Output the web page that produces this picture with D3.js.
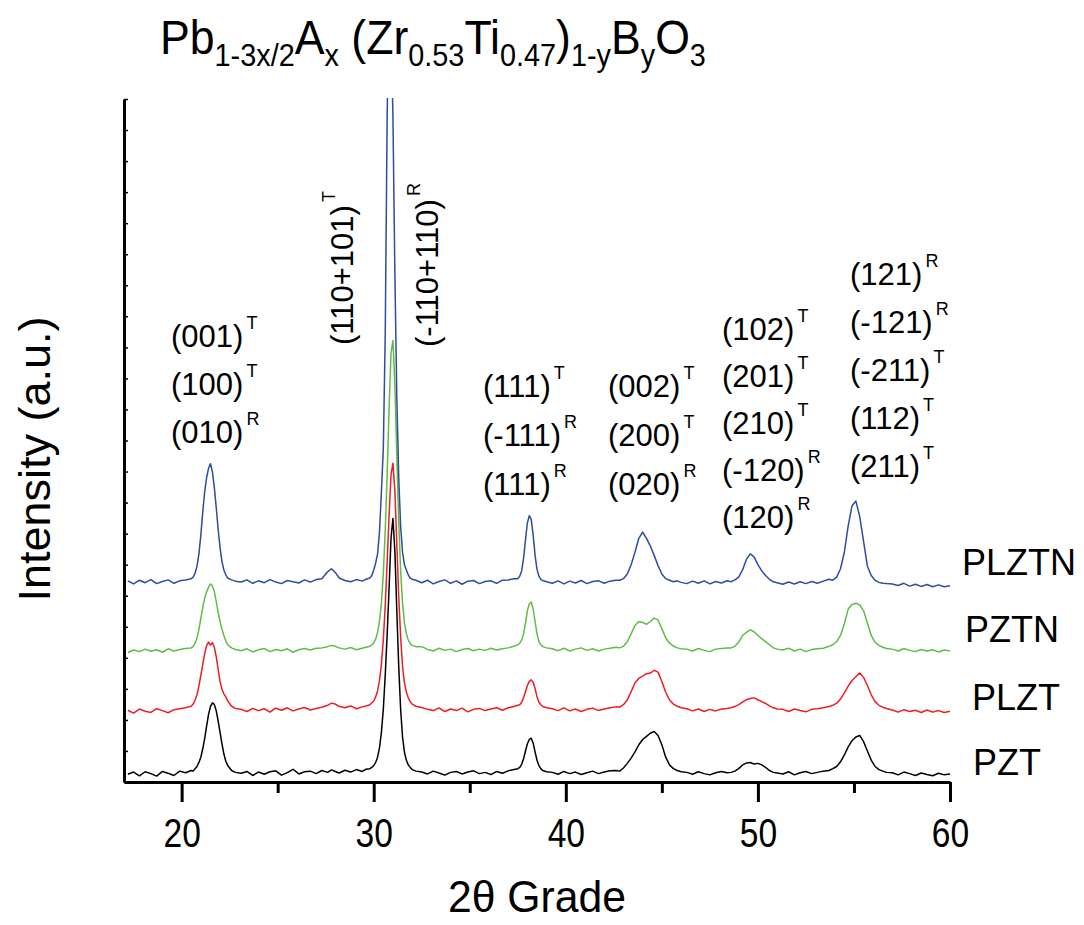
<!DOCTYPE html>
<html>
<head>
<meta charset="utf-8">
<script src="https://cdn.jsdelivr.net/npm/d3@7"></script>
<style>
  html, body { margin: 0; padding: 0; background: #ffffff; }
  svg { display: block; }
  text { font-family: Arial, "Liberation Sans", Helvetica, sans-serif; fill: #000; }
</style>
</head>
<body>
<svg id="chart" width="1084" height="925"></svg>
<script>
// ---------------- DATA ----------------
// 2-theta positions (degrees)
const theta = [
  17.2,17.5,17.8,18.1,18.4,18.7,19.0,19.3,19.6,19.9,20.2,
  20.5,20.6,20.7,20.8,20.9,21.0,21.1,21.2,21.3,21.4,21.5,21.6,21.7,21.8,21.9,22.0,22.1,22.2,22.3,22.4,22.6,22.8,
  23.1,23.4,23.7,24.0,24.3,24.6,24.9,25.2,25.5,25.8,26.1,26.4,26.7,27.0,27.3,27.6,27.8,28.0,28.2,28.5,28.8,29.1,29.4,29.6,
  29.8,29.9,30.0,30.1,30.2,30.3,30.4,30.5,30.6,30.7,30.8,30.9,31.0,31.1,31.2,31.3,31.4,31.5,31.6,31.7,31.8,31.9,32.0,32.2,
  32.5,32.8,33.1,33.4,33.7,34.0,34.3,34.6,34.9,35.2,35.5,35.8,36.1,36.4,36.7,37.0,37.3,
  37.5,37.6,37.7,37.8,37.9,38.0,38.1,38.2,38.3,38.4,38.5,38.6,38.7,38.8,39.0,
  39.3,39.6,39.9,40.2,40.5,40.8,41.1,41.4,41.7,42.0,42.3,42.6,
  42.8,43.0,43.2,43.4,43.6,43.8,44.0,44.2,44.4,44.6,44.8,45.0,45.2,45.4,45.6,45.8,46.0,
  46.3,46.6,46.9,47.2,47.5,47.8,48.1,48.4,
  48.6,48.8,49.0,49.2,49.4,49.6,49.8,50.0,50.2,50.4,50.6,50.8,51.0,
  51.3,51.6,51.9,52.2,52.5,52.8,53.1,53.4,53.7,
  53.9,54.1,54.3,54.5,54.7,54.9,55.1,55.3,55.5,55.7,55.9,56.1,56.3,56.5,56.7,
  57.0,57.3,57.6,57.9,58.2,58.5,58.8,59.1,59.4,59.7,60.0
];

// intensities (a.u.), relative to each pattern's own baseline
const pzt = [
  0.00,0.07,-0.05,0.08,0.02,-0.06,0.09,0.03,-0.04,0.10,0.05,
  0.12,0.10,0.18,0.25,0.38,0.55,0.82,1.15,1.55,1.92,2.18,2.30,2.25,2.05,1.72,1.35,0.98,0.65,0.42,0.28,0.12,0.06,
  0.03,0.09,-0.04,0.07,0.00,0.08,0.11,-0.03,0.05,0.16,0.01,0.08,0.10,0.02,0.12,0.06,0.14,0.09,0.04,0.13,0.07,0.15,0.09,0.16,
  0.18,0.22,0.28,0.38,0.55,0.85,1.35,2.1,3.2,4.5,6.0,7.6,8.24,7.2,5.3,3.5,2.1,1.2,0.7,0.45,0.3,0.22,0.15,0.1,
  0.07,0.01,0.10,0.04,-0.03,0.06,0.09,0.01,0.07,0.11,0.02,0.06,-0.01,0.09,0.03,0.11,0.15,
  0.18,0.22,0.32,0.5,0.75,0.98,1.12,1.16,1.0,0.72,0.45,0.28,0.18,0.12,0.08,
  0.06,0.00,0.09,0.02,0.07,-0.01,0.05,0.10,0.02,0.07,0.11,0.12,
  0.1,0.2,0.35,0.52,0.72,0.95,1.12,1.22,1.32,1.38,1.25,0.95,0.55,0.3,0.18,0.12,0.08,
  0.06,0.00,0.08,0.02,-0.02,0.05,0.09,0.05,
  0.06,0.1,0.18,0.3,0.36,0.38,0.33,0.35,0.3,0.22,0.12,0.06,0.04,
  0.01,0.08,-0.02,0.05,0.09,0.02,0.06,0.10,0.12,
  0.18,0.25,0.4,0.62,0.88,1.08,1.2,1.25,1.05,0.75,0.45,0.25,0.15,0.1,0.06,
  0.05,-0.02,0.07,0.02,-0.04,0.04,-0.01,-0.05,0.03,-0.02,0.01
];
const plzt = [
  0.02,-0.07,0.06,-0.01,-0.05,0.07,0.01,-0.06,0.04,0.07,0.1,
  0.15,0.22,0.35,0.52,0.8,1.15,1.5,1.85,2.1,2.22,2.12,2.2,2.05,1.75,1.35,0.95,0.7,0.55,0.45,0.32,0.15,0.08,
  0.05,-0.02,0.08,0.01,0.07,-0.04,0.09,0.02,0.10,0.00,0.06,0.11,0.03,0.08,0.12,0.18,0.25,0.22,0.15,0.1,0.16,0.07,0.13,0.16,
  0.2,0.26,0.32,0.45,0.65,0.98,1.5,2.3,3.4,4.8,6.3,7.6,7.98,7.1,5.4,3.7,2.4,1.45,0.9,0.6,0.42,0.3,0.22,0.15,
  0.11,0.05,0.01,0.10,-0.02,0.06,0.01,0.09,-0.03,0.05,0.08,0.01,0.06,0.10,0.02,0.1,0.14,
  0.18,0.2,0.28,0.42,0.62,0.82,0.95,1.0,0.92,0.72,0.45,0.28,0.2,0.14,0.1,
  0.07,0.01,0.10,0.00,0.06,-0.02,0.05,0.09,0.01,0.06,0.10,0.13,
  0.12,0.2,0.35,0.62,0.9,1.05,1.12,1.2,1.22,1.31,1.25,0.95,0.6,0.35,0.22,0.15,0.1,
  0.07,0.00,0.06,-0.02,0.05,0.00,0.06,0.08,
  0.1,0.14,0.2,0.28,0.36,0.4,0.42,0.36,0.3,0.24,0.16,0.1,0.06,
  0.05,-0.02,0.06,0.01,-0.03,0.05,0.07,0.1,0.14,
  0.18,0.25,0.38,0.58,0.8,0.98,1.1,1.22,1.08,0.82,0.52,0.3,0.18,0.12,0.08,
  0.03,-0.04,0.04,-0.02,0.02,-0.05,0.03,-0.04,0.01,-0.05,-0.01
];
const pztn = [
  -0.05,0.03,-0.02,0.06,-0.01,0.04,-0.04,0.07,0.00,0.05,0.08,
  0.1,0.15,0.25,0.42,0.7,1.05,1.4,1.7,1.9,2.05,2.16,2.1,1.92,1.6,1.25,0.95,0.7,0.5,0.32,0.2,0.1,0.05,
  0.01,0.07,-0.03,0.04,0.08,-0.02,0.05,0.01,0.07,-0.04,0.04,0.08,0.03,0.09,0.1,0.14,0.18,0.15,0.1,0.06,0.11,0.04,0.09,0.12,
  0.15,0.2,0.26,0.38,0.6,0.95,1.55,2.5,3.9,5.7,7.8,9.6,10.0,8.6,6.4,4.2,2.6,1.55,0.9,0.55,0.35,0.25,0.18,0.14,
  0.14,0.05,0.00,0.09,0.02,0.06,-0.02,0.05,0.08,0.01,0.06,0.02,0.09,0.03,0.07,0.1,0.15,
  0.2,0.25,0.35,0.55,0.9,1.3,1.52,1.58,1.35,0.95,0.55,0.3,0.2,0.14,0.1,
  0.07,0.01,0.09,0.00,0.06,0.10,0.02,0.07,0.00,0.06,0.09,0.12,
  0.1,0.15,0.3,0.55,0.82,0.95,0.92,0.86,0.95,1.06,1.0,0.72,0.42,0.25,0.16,0.1,0.07,
  0.06,0.00,0.08,0.02,-0.02,0.06,0.08,0.1,
  0.1,0.15,0.28,0.5,0.6,0.68,0.62,0.5,0.4,0.3,0.2,0.1,0.06,
  0.03,0.09,0.00,0.06,-0.02,0.05,0.07,0.09,0.15,
  0.2,0.3,0.5,0.88,1.35,1.5,1.54,1.48,1.3,0.9,0.5,0.28,0.18,0.12,0.08,
  0.06,0.00,0.08,0.02,-0.02,0.05,0.00,0.04,-0.03,0.03,0.0
];
const plztn = [
  0.03,-0.07,0.05,-0.03,0.07,-0.06,0.01,0.06,-0.05,0.03,0.06,
  0.1,0.15,0.28,0.5,0.9,1.5,2.25,2.9,3.35,3.65,3.8,3.55,3.05,2.4,1.7,1.1,0.65,0.38,0.22,0.12,0.06,0.02,
  -0.01,0.06,-0.05,0.03,-0.03,0.07,-0.01,-0.06,0.04,0.00,-0.04,0.06,-0.01,0.07,0.1,0.32,0.42,0.3,0.12,0.04,0.00,0.07,0.02,0.08,
  0.12,0.2,0.38,0.6,0.9,1.6,2.9,4.3,8.0,15.0,19.0,18.0,15.0,10.0,6.0,3.4,1.8,0.95,0.55,0.38,0.22,0.12,0.08,0.05,
  -0.03,0.05,-0.07,0.01,0.06,-0.05,0.03,-0.08,0.02,0.04,-0.06,0.01,0.03,-0.05,0.05,0.06,0.1,
  0.1,0.18,0.35,0.75,1.35,1.9,2.13,2.0,1.5,0.85,0.4,0.18,0.08,0.04,0.0,
  -0.05,0.03,-0.07,0.02,-0.04,0.04,-0.06,0.01,0.03,-0.05,0.02,0.05,
  0.05,0.1,0.25,0.55,0.95,1.4,1.6,1.4,1.15,0.85,0.52,0.25,0.1,0.05,0.0,0.03,-0.02,
  -0.06,0.02,-0.05,0.03,-0.07,0.01,-0.04,0.03,
  0.0,0.06,0.15,0.38,0.72,0.9,0.8,0.55,0.35,0.2,0.08,0.0,-0.03,
  -0.08,-0.01,-0.07,0.00,-0.06,0.01,-0.05,0.02,0.08,
  0.05,0.15,0.42,0.95,1.8,2.45,2.6,2.1,1.3,0.5,0.2,0.05,-0.02,-0.05,-0.06,
  -0.07,-0.12,-0.05,-0.14,-0.08,-0.15,-0.09,-0.16,-0.10,-0.16,-0.13
];

const seriesNames   = ["PZT", "PLZT", "PZTN", "PLZTN"];
const seriesValues  = [pzt, plzt, pztn, plztn];
const seriesOffsets = [0.25, 2.29, 4.22, 6.45];   // vertical stacking offsets (a.u.)
const seriesColors  = ["#000000", "#ee1d23", "#62bb46", "#2c4da0"];

const xMajorTicks = [20, 30, 40, 50, 60];
const xTickLabels = ["20", "30", "40", "50", "60"];
const xMinorTicks = [25, 35, 45, 55];
const yTicks = [0,1,2,3,4,5,6,7,8,9,10,11,12,13,14,15,16,17,18,19,20,21,22];

// reflection labels: [text, superscript]
const reflGroup1 = [["(001)", "T"], ["(100)", "T"], ["(010)", "R"]];
const reflGroup2 = [["(111)", "T"], ["(-111)", "R"], ["(111)", "R"]];
const reflGroup3 = [["(002)", "T"], ["(200)", "T"], ["(020)", "R"]];
const reflGroup4 = [["(102)", "T"], ["(201)", "T"], ["(210)", "T"], ["(-120)", "R"], ["(120)", "R"]];
const reflGroup5 = [["(121)", "R"], ["(-121)", "R"], ["(-211)", "T"], ["(112)", "T"], ["(211)", "T"]];
const reflRotated = [["(110+101)", "T"], ["(-110+110)", "R"]];

// ---------------- LAYOUT ----------------
const FONT = "Arial, 'Liberation Sans', Helvetica, sans-serif";
const svg = d3.select("#chart");
const L = 124, R = 950, T = 99, B = 782;

const x = d3.scaleLinear().domain([17, 60]).range([L, R]);
const y = d3.scaleLinear().domain([0, 22]).range([B, T]);

// clip
svg.append("defs").append("clipPath").attr("id", "plotclip")
  .append("rect").attr("x", L).attr("y", T - 1).attr("width", R - L + 2).attr("height", B - T + 1);

// patterns
const lineGen = d3.line().x(d => x(d[0])).y(d => y(d[1]));
const plotG = svg.append("g").attr("clip-path", "url(#plotclip)");
seriesValues.forEach((vals, i) => {
  const pts = theta.map((t, k) => [t, vals[k] + seriesOffsets[i]]);
  plotG.append("path")
    .datum(pts)
    .attr("d", lineGen)
    .attr("fill", "none")
    .attr("stroke", seriesColors[i])
    .attr("stroke-width", 1.5)
    .attr("stroke-linejoin", "round");
});

// x axis (major)
const xAxisMajor = d3.axisBottom(x).tickValues(xMajorTicks)
  .tickFormat((d, i) => xTickLabels[i]).tickSize(20).tickSizeOuter(0).tickPadding(17);
const gxM = svg.append("g").attr("transform", `translate(0,${B})`).call(xAxisMajor);
gxM.attr("font-family", null).attr("font-size", null);
gxM.select(".domain").attr("stroke", "#000").attr("stroke-width", 3);
gxM.selectAll(".tick line").attr("stroke", "#000").attr("stroke-width", 3);
gxM.selectAll(".tick text").attr("font-size", 40).attr("fill", "#000")
  .attr("transform", "scale(0.84,1)")
  .style("font-family", FONT);

// x axis (minor)
const xAxisMinor = d3.axisBottom(x).tickValues(xMinorTicks).tickFormat("").tickSize(11).tickSizeOuter(0);
const gxm = svg.append("g").attr("transform", `translate(0,${B})`).call(xAxisMinor);
gxm.select(".domain").remove();
gxm.selectAll(".tick line").attr("stroke", "#000").attr("stroke-width", 3);

// y axis
const yAxis = d3.axisLeft(y).tickValues(yTicks).tickFormat("").tickSize(-4).tickSizeOuter(0);
const gy = svg.append("g").attr("transform", `translate(${L},0)`).call(yAxis);
gy.select(".domain").attr("stroke", "#000").attr("stroke-width", 3);
gy.selectAll(".tick line").attr("stroke", "#000").attr("stroke-width", 1.5);

// axis titles
svg.append("text").attr("transform", "translate(537,912) scale(0.95,1)").attr("text-anchor", "middle")
  .attr("font-size", 45).style("font-family", FONT).text("2θ Grade");
svg.append("text").attr("transform", "translate(50,459) rotate(-90)").attr("text-anchor", "middle")
  .attr("font-size", 45).style("font-family", FONT).text("Intensity (a.u.)");

// title
const title = svg.append("text").attr("transform", "translate(160,54) scale(0.93,1)")
  .attr("font-size", 48).style("font-family", FONT);
const titleParts = [
  ["Pb", 0], ["1-3x/2", 1], ["A", 0], ["x", 1], [" (Zr", 0], ["0.53", 1], ["Ti", 0], ["0.47", 1],
  [")", 0], ["1-y", 1], ["B", 0], ["y", 1], ["O", 0], ["3", 1]
];
let prevSub = 0;
titleParts.forEach(([s, sub]) => {
  const dy = sub === prevSub ? 0 : (sub ? 12 : -12);
  title.append("tspan").attr("dy", dy).attr("font-size", sub ? 31 : 48).text(s);
  prevSub = sub;
});

// reflection labels helper
function reflLabel(g, xp, yp, txt, sup) {
  const t = g.append("text").attr("x", xp).attr("y", yp).attr("font-size", 31).style("font-family", FONT);
  t.append("tspan").text(txt);
  t.append("tspan").attr("dx", 3).attr("dy", -18).attr("font-size", 18).text(sup);
}
const labG = svg.append("g");
function group(list, xp, baselines) {
  list.forEach((d, i) => reflLabel(labG, xp, baselines[i], d[0], d[1]));
}
group(reflGroup1, 171, [347, 395, 443]);
group(reflGroup2, 483, [397, 446, 495]);
group(reflGroup3, 608, [397, 446, 495]);
group(reflGroup4, 722, [340, 387, 434, 481, 528]);
group(reflGroup5, 850, [285, 333, 381, 429, 477]);

// rotated labels
[[353, 345], [438, 347]].forEach((p, i) => {
  const g = labG.append("g").attr("transform", `translate(${p[0]},${p[1]}) rotate(-90)`);
  reflLabel(g, 0, 0, reflRotated[i][0], reflRotated[i][1]);
});

// series names
const nameLayout = [[973, 775], [972, 710], [965, 642], [962, 575]];
seriesNames.forEach((n, i) => {
  svg.append("text").attr("x", nameLayout[i][0]).attr("y", nameLayout[i][1])
    .attr("font-size", 36).style("font-family", FONT).text(n);
});
</script>
</body>
</html>
